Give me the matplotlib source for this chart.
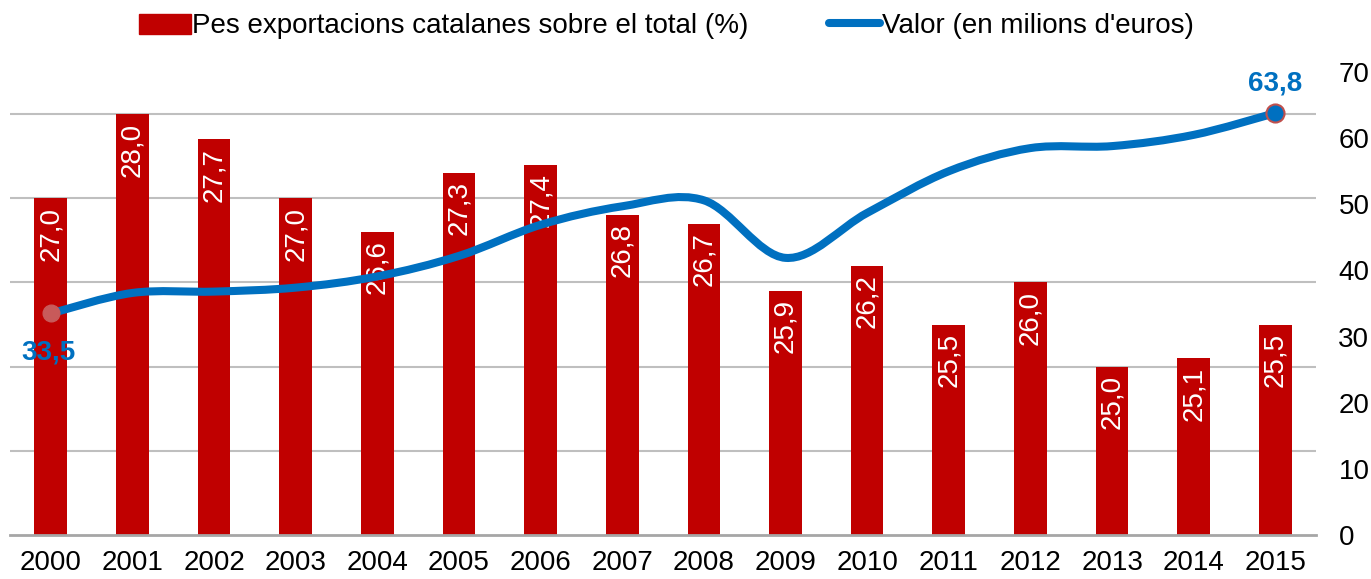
import matplotlib.pyplot as plt
from matplotlib.path import Path
from matplotlib.patches import PathPatch
from matplotlib.lines import Line2D
import numpy as np

plt.rcParams['font.family'] = ['Liberation Sans', 'DejaVu Sans']

anys = ['2000', '2001', '2002', '2003', '2004', '2005', '2006', '2007',
        '2008', '2009', '2010', '2011', '2012', '2013', '2014', '2015']
pes = [27.0, 28.0, 27.7, 27.0, 26.6, 27.3, 27.4, 26.8,
       26.7, 25.9, 26.2, 25.5, 26.0, 25.0, 25.1, 25.5]
valor = [33.5, 36.6, 36.8, 37.4, 39.1, 42.2, 46.9, 49.7,
         50.6, 41.9, 48.7, 55.0, 58.5, 58.8, 60.5, 63.8]

vermell = '#C00000'
blau = '#0070C0'
fs = 20

fig = plt.figure(figsize=(13.71, 5.79), dpi=100)
ax = fig.add_axes([0.0073, 0.076, 0.9527, 0.7996])
x = np.arange(len(anys))

# barres (eix esquerre, ocult)
ax.bar(x, pes, width=0.4, bottom=0, color=vermell, zorder=2)
ax.set_ylim(23, 28.5)
ax.set_xlim(-0.5, len(anys) - 0.5)
ax.set_yticks([24, 25, 26, 27, 28])
ax.yaxis.grid(True, color='#BFBFBF', lw=1.5, zorder=0)
ax.set_xticks(x)
ax.set_xticklabels(anys, fontsize=fs)
ax.tick_params(axis='x', length=0, pad=11)
for s in ['top', 'right', 'left']:
    ax.spines[s].set_visible(False)
ax.spines['bottom'].set_color('#A6A6A6')
ax.spines['bottom'].set_linewidth(2)

for xi, v in zip(x, pes):
    ax.annotate(f'{v:.1f}'.replace('.', ','), (xi, v), xytext=(0, -6),
                textcoords='offset points', rotation=90, ha='center', va='top',
                color='white', fontsize=fs, zorder=4)

# línia suavitzada (eix dret)
ax2 = ax.twinx()
ax.tick_params(axis='y', left=False, right=False, labelleft=False)
ax2.set_ylim(0, 70)
ax2.set_yticks(range(0, 71, 10))
ax2.tick_params(axis='y', length=0, pad=16, labelsize=fs)
for s in ax2.spines.values():
    s.set_visible(False)

pts = np.column_stack([x, valor])
verts = [pts[0]]
codes = [Path.MOVETO]
for i in range(len(pts) - 1):
    p0 = pts[i - 1] if i > 0 else pts[i]
    p1 = pts[i]
    p2 = pts[i + 1]
    p3 = pts[i + 2] if i + 2 < len(pts) else pts[i + 1]
    c1 = p1 + (p2 - p0) / 6
    c2 = p2 - (p3 - p1) / 6
    verts += [c1, c2, p2]
    codes += [Path.CURVE4] * 3
ax2.add_patch(PathPatch(Path(verts, codes), fill=False, edgecolor=blau,
                        lw=5.8, capstyle='round', zorder=3))

ax2.plot(x[0], valor[0], 'o', ms=12, mfc='#C85A5A', mec='#C85A5A', zorder=5)
ax2.plot(x[-1], valor[-1], 'o', ms=13, mfc=blau, mec='#C0504D', mew=1.5, zorder=5)
ax2.annotate(f'{valor[0]:.1f}'.replace('.', ','), (x[0], valor[0]),
             xytext=(-2, -19), textcoords='offset points', ha='center', va='top',
             color=blau, fontsize=fs, fontweight='bold')
ax2.annotate(f'{valor[-1]:.1f}'.replace('.', ','), (x[-1], valor[-1]),
             xytext=(0, 12), textcoords='offset points', ha='center', va='bottom',
             color=blau, fontsize=fs, fontweight='bold')

handles = [plt.Rectangle((0, 0), 1, 1, color=vermell),
           Line2D([0], [0], color=blau, lw=5.8, solid_capstyle='round')]
fig.legend(handles, ['Pes exportacions catalanes sobre el total (%)',
                     "Valor (en milions d'euros)"],
           loc='upper center', bbox_to_anchor=(0.486, 1.02), ncol=2, frameon=False,
           fontsize=fs, handlelength=1.85, handleheight=0.75, handletextpad=0.05,
           columnspacing=2.9)

plt.savefig('out.png', dpi=100)
